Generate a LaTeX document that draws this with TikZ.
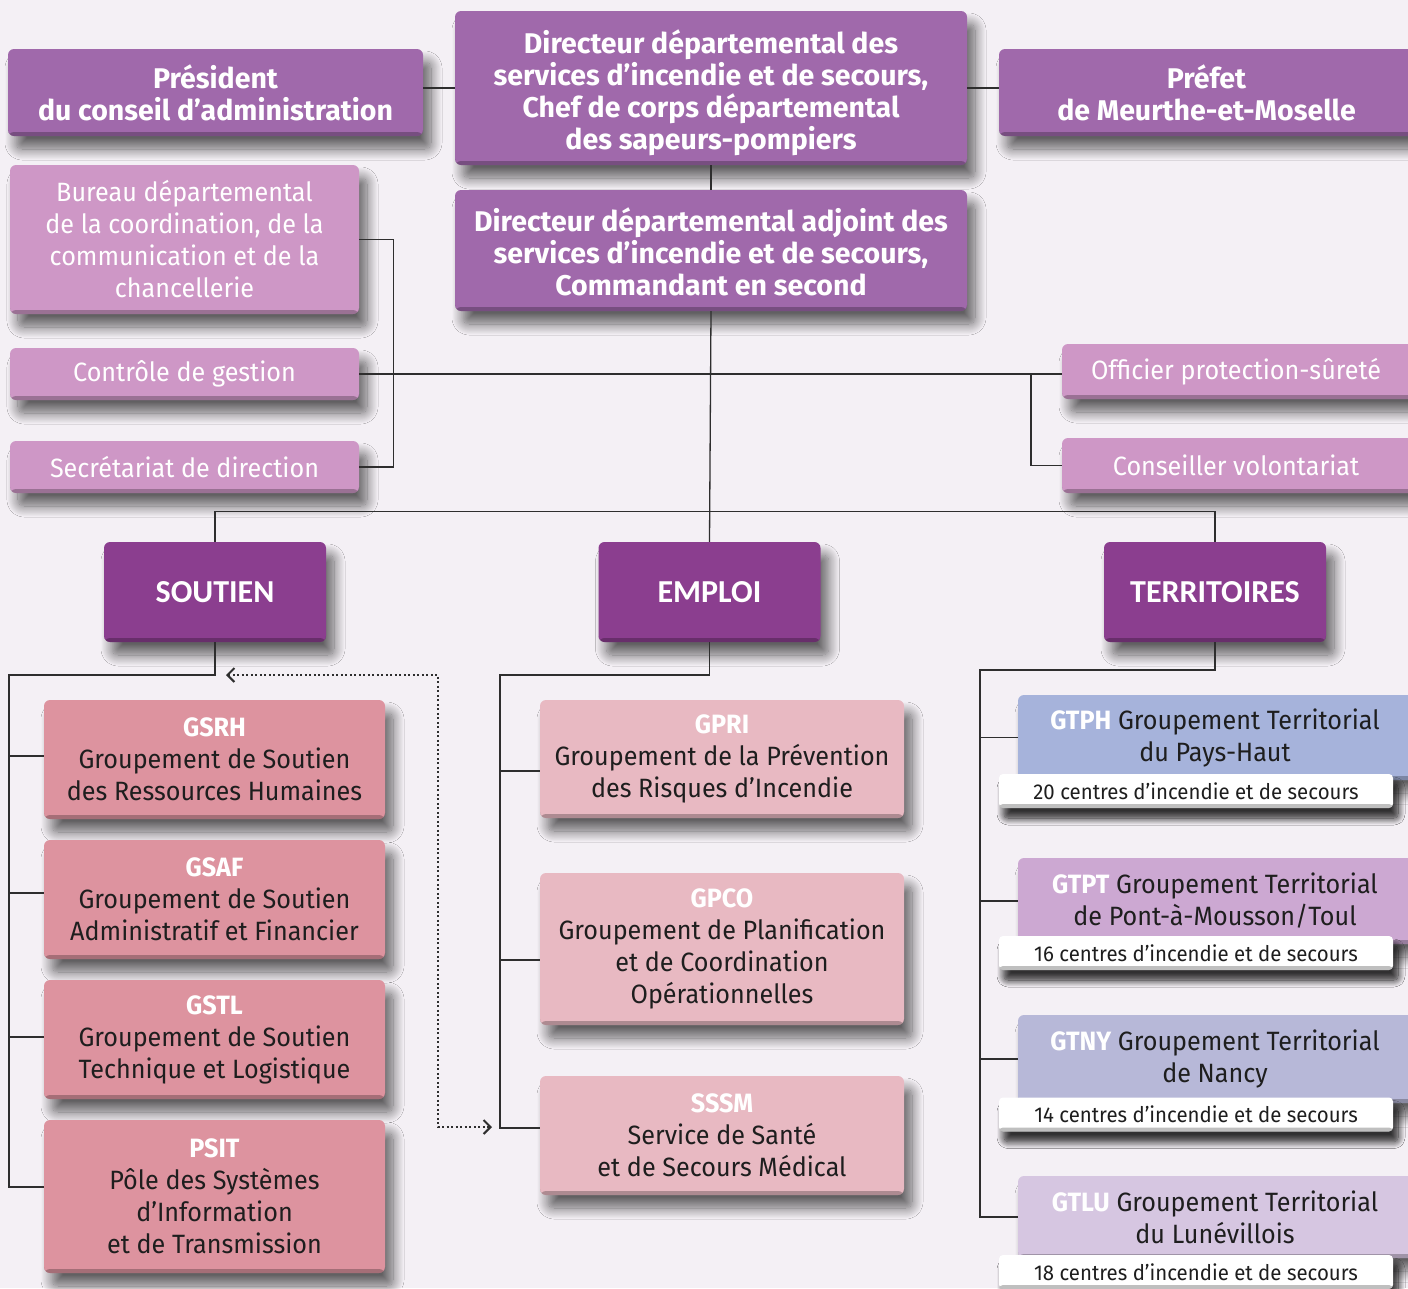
\documentclass[tikz,border=0pt]{standalone}
\usepackage{fontspec}
\setmainfont{Fira Sans}[FakeStretch=0.95]
\newfontfamily\headfont{Fira Sans}[FakeStretch=1.0]
\newfontfamily\carl{Carlito}
\usetikzlibrary{shadows.blur,arrows.meta,calc}
\definecolor{bg}{HTML}{F4F0F5}
\definecolor{cTop}{HTML}{A069AB}
\definecolor{cLight}{HTML}{CE97C6}
\definecolor{cDark}{HTML}{8B3E8F}
\definecolor{cGS}{HTML}{DD939F}
\definecolor{cGP}{HTML}{E8B9C2}
\definecolor{cPH}{HTML}{A6B3DB}
\definecolor{cPT}{HTML}{CCA8D2}
\definecolor{cNY}{HTML}{B7B8D8}
\definecolor{cLU}{HTML}{D6C6E1}
\definecolor{lineC}{HTML}{2E2E2E}
\definecolor{txt}{HTML}{1E1E1E}
\tikzset{
 conn/.style={draw=lineC, line width=1.3pt},
 box/.style={rounded corners=6pt, inner sep=0pt, align=center,
   blur shadow={shadow xshift=8pt, shadow yshift=-13pt, shadow opacity=60, shadow blur steps=16, shadow blur radius=11pt},
   path picture={\fill[black,opacity=0.25] ([yshift=4pt]path picture bounding box.south west) rectangle (path picture bounding box.south east);}},
 topbox/.style={box, fill=cTop, text=white, font=\headfont\bfseries\fontsize{28.5}{32}\selectfont},
 lightbox/.style={box, fill=cLight, text=white, font=\fontsize{26.5}{32}\selectfont, minimum width=349},
 darkbox/.style={box, fill=cDark, text=white, font=\carl\bfseries\fontsize{32}{36}\selectfont, minimum width=222, minimum height=100},
 gsbox/.style={box, fill=cGS, text=txt, font=\fontsize{26.5}{32}\selectfont, minimum width=341},
 gpbox/.style={box, fill=cGP, text=txt, font=\fontsize{26.5}{32}\selectfont, minimum width=364},
 gtbox/.style={box, text=txt, font=\fontsize{26.5}{32}\selectfont, minimum width=402},
 cisbox/.style={box, fill=white, text=txt, rounded corners=4pt, font=\fontsize{21.5}{24}\selectfont, minimum width=394, minimum height=34,
   blur shadow={shadow xshift=5pt, shadow yshift=-10pt, shadow opacity=55, shadow blur steps=12, shadow blur radius=7pt}},
 barb/.tip={Straight Barb[length=7pt,width=14pt]}
}
\newcommand{\acro}[1]{{\bfseries\color{white}#1}}
\begin{document}
\begin{tikzpicture}[x=1pt,y=-1pt]
\fill[bg] (0,0) rectangle (1408,1288);
\useasboundingbox (0,0) rectangle (1408,1288);

\coordinate (sv) at (9,675);
\coordinate (ev) at (500,675);
\coordinate (tv) at (980,670);
\coordinate (da1) at (226,675);
\coordinate (da2) at (492,1127);
\coordinate (dc) at (438,900);

% ---- top nodes ----
\node[topbox, minimum width=415, minimum height=87] (pres) at (215.5,92.5) {Président\\du conseil d’administration};
\node[topbox, minimum width=512, minimum height=154] (dir) at (711,88) {\rule{0pt}{33pt}Directeur départemental des\\services d’incendie et de secours,\\Chef de corps départemental\\des sapeurs-pompiers};
\node[topbox, minimum width=421, minimum height=87] (pref) at (1209.5,92.5) {\hspace*{-6pt}Préfet\\\hspace*{-6pt}de Meurthe-et-Moselle};
\node[topbox, minimum width=512, minimum height=121] (adj) at (711,250.5) {\rule{0pt}{27pt}Directeur départemental adjoint des\\services d’incendie et de secours,\\Commandant en second};

\node[lightbox, minimum height=149] (bur) at (184.5,239.5) {Bureau départemental\\de la coordination, de la\\communication et de la\\chancellerie};
\node[lightbox, minimum height=52] (ctrl) at (184.5,374) {Contrôle de gestion};
\node[lightbox, minimum height=52] (sec) at (184.5,467) {Secrétariat de direction};
\node[lightbox, minimum width=358, minimum height=55] (off) at (1241,371.5) {\hspace*{-10pt}Officier protection-sûreté};
\node[lightbox, minimum width=358, minimum height=55] (cons) at (1241,465.5) {\hspace*{-10pt}Conseiller volontariat};

\node[darkbox] (sout) at (215,592) {SOUTIEN};
\node[darkbox] (emp) at (709.5,592) {EMPLOI};
\node[darkbox] (terr) at (1215,592) {TERRITOIRES};

% connectors
\draw[conn] (dir.west) -- (dir.west -| pres.east);
\draw[conn] (dir.east) -- (dir.east -| pref.west);
\draw[conn] (dir.south) -- (adj.north);
\draw[conn] (adj.south) -- (emp.north);
\draw[conn] (ctrl.east) -- (ctrl.east -| off.west);
\draw[conn] (bur.east) -- ++(34,0) |- (sec.east);
\draw[conn] (ctrl.east -| 1031,0) |- (cons.west);
\draw[conn] (sout.north) -- ++(0,-30) -| (terr.north);

% ---- SOUTIEN column ----
\node[gsbox, minimum height=119] (gsrh) at (214.5,759.5) {\acro{GSRH}\\Groupement de Soutien\\des Ressources Humaines};
\node[gsbox, minimum height=119] (gsaf) at (214.5,899.5) {\acro{GSAF}\\Groupement de Soutien\\Administratif et Financier};
\node[gsbox, minimum height=119] (gstl) at (214.5,1039.5) {\acro{GSTL}\\Groupement de Soutien\\Technique et Logistique};
\node[gsbox, minimum height=153] (psit) at (214.5,1196.5) {\acro{PSIT}\\Pôle des Systèmes\\d’Information\\et de Transmission};

\draw[conn] (sout.south) |- (sv) |- ([yshift=9.5pt]psit.west);
\draw[conn] ([yshift=3.5pt]gsrh.west) -- ([yshift=3.5pt]gsrh.west -| sv);
\draw[conn] ([yshift=6.5pt]gsaf.west) -- ([yshift=6.5pt]gsaf.west -| sv);
\draw[conn] ([yshift=2.5pt]gstl.west) -- ([yshift=2.5pt]gstl.west -| sv);

% ---- EMPLOI column ----
\node[gpbox, minimum height=118] (gpri) at (722,759) {\acro{GPRI}\\Groupement de la Prévention\\des Risques d’Incendie};
\node[gpbox, minimum height=152] (gpco) at (722,949) {\acro{GPCO}\\Groupement de Planification\\et de Coordination\\Opérationnelles};
\node[gpbox, minimum height=119] (sssm) at (722,1135.5) {\acro{SSSM}\\Service de Santé\\et de Secours Médical};

\draw[conn] (emp.south) |- (ev) |- ([yshift=7.5pt]sssm.west);
\draw[conn] ([yshift=-12pt]gpri.west) -- ([yshift=-12pt]gpri.west -| ev);
\draw[conn] ([yshift=-11pt]gpco.west) -- ([yshift=-11pt]gpco.west -| ev);

% dotted double arrow
\draw[lineC, line width=2pt, dash pattern=on 2pt off 2.5pt, barb-barb] (da1) -- (da1 -| dc) |- (da2);

% ---- TERRITOIRES column ----
\node[gtbox, fill=cPH, minimum height=85] (gtph) at (1219,737.5) {\hspace*{-8pt}\acro{GTPH} Groupement Territorial\\\hspace*{-8pt}du Pays-Haut};
\node[cisbox] (cph) at (1196,791) {20 centres d’incendie et de secours};
\node[gtbox, fill=cPT, minimum height=86] (gtpt) at (1219,901) {\hspace*{-8pt}\acro{GTPT} Groupement Territorial\\\hspace*{-8pt}de Pont-à-Mousson/Toul};
\node[cisbox] (cpt) at (1196,953) {16 centres d’incendie et de secours};
\node[gtbox, fill=cNY, minimum height=88] (gtny) at (1219,1059) {\hspace*{-8pt}\acro{GTNY} Groupement Territorial\\\hspace*{-8pt}de Nancy};
\node[cisbox] (cny) at (1196,1114.5) {14 centres d’incendie et de secours};
\node[gtbox, fill=cLU, minimum height=82] (gtlu) at (1219,1217) {\hspace*{-8pt}\acro{GTLU} Groupement Territorial\\\hspace*{-8pt}du Lunévillois};
\node[cisbox] (clu) at (1196,1272) {18 centres d’incendie et de secours};

\draw[conn] (terr.south) |- (tv) |- (gtlu.west);
\draw[conn] (gtph.west) -- (gtph.west -| tv);
\draw[conn] (gtpt.west) -- (gtpt.west -| tv);
\draw[conn] (gtny.west) -- (gtny.west -| tv);
\end{tikzpicture}
\end{document}
